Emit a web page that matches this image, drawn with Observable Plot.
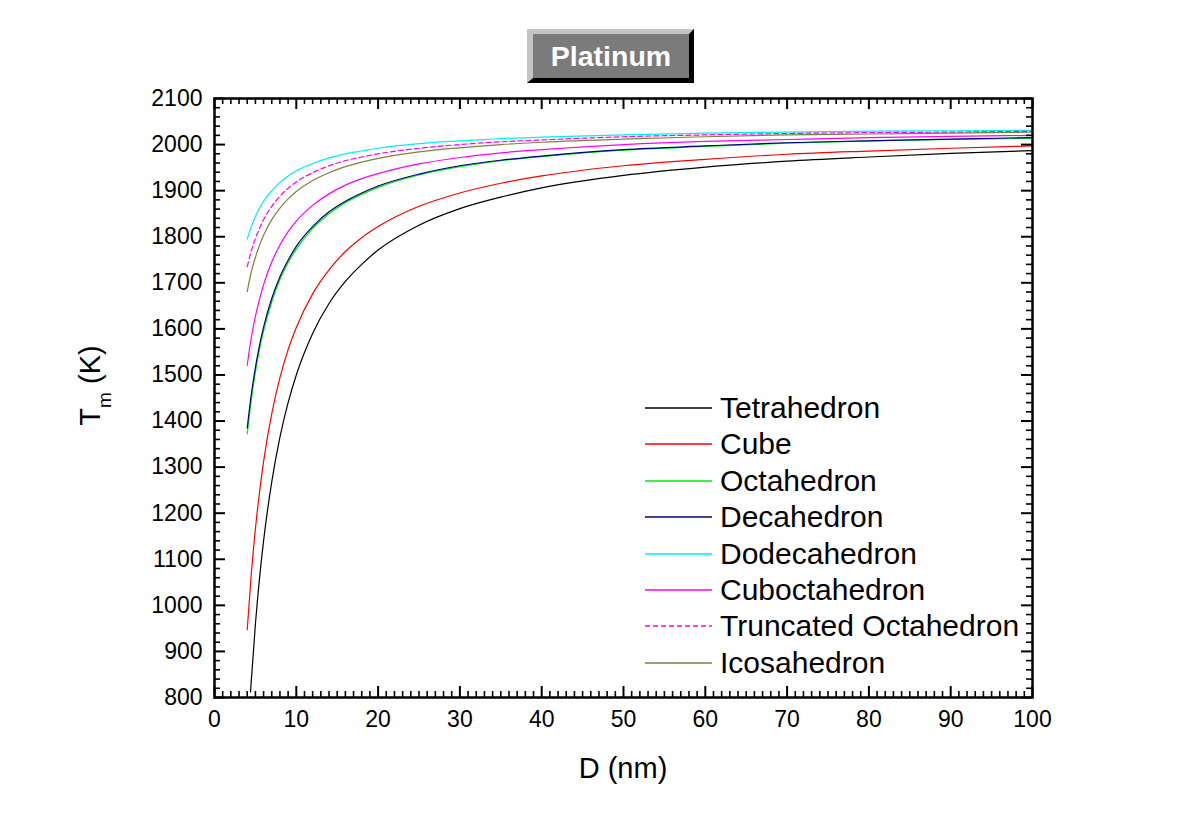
<!DOCTYPE html>
<html>
<head>
<meta charset="utf-8">
<script src="https://cdn.jsdelivr.net/npm/d3@7"></script>
<script src="https://cdn.jsdelivr.net/npm/@observablehq/plot@0.6"></script>
<style>
  html, body { margin: 0; padding: 0; background: #fff; }
  #wrap { position: relative; width: 1200px; height: 837px; font-family: "Liberation Sans", Arial, sans-serif; }
  #title { position: absolute; left: 527px; top: 29px; width: 167px; height: 54px; box-sizing: border-box;
    background: #7b7b7b; border-style: solid; border-width: 5px 5px 5px 6px;
    border-color: #c4c4c4 #000 #000 #c4c4c4; color: #fff; font-weight: bold; font-size: 28.5px;
    display: flex; align-items: center; justify-content: center; }
  .leg { position: absolute; height: 36px; line-height: 36px; font-size: 30px; color: #000; white-space: nowrap; }
</style>
</head>
<body>
<div id="wrap"></div>
<script>
// ---- data ----
const seriesNames = ["Tetrahedron","Cube","Octahedron","Decahedron","Dodecahedron","Cuboctahedron","Truncated Octahedron","Icosahedron"];
const seriesColors = ["#000000","#ff0000","#00ee00","#000080","#00f0f0","#ff00ff","#ff00ff","#7f7f45"];
const seriesDash = [null,null,null,null,null,null,"5,3",null];

const D_all = [4,4.5,5,5.5,6,7,8,9,10,12,14,16,18,20,25,30,35,40,50,60,70,80,90,100];
const D_tetra = [4.4,5,5.5,6,7,8,9,10,12,14,16,18,20,25,30,35,40,50,60,70,80,90,100];

const T_tetrahedron   = [812,959,1058,1140,1268,1365,1440,1500,1590,1655,1703,1740,1771,1825,1861,1886,1906,1933,1951,1964,1973,1981,1987];
const T_cube          = [947,1069,1166,1245,1312,1416,1494,1555,1603,1676,1728,1768,1798,1822,1866,1895,1916,1932,1954,1968,1979,1986,1992,1997];
const T_octahedron    = [1372,1446,1506,1555,1595,1659,1707,1744,1773,1818,1850,1874,1892,1907,1934,1952,1965,1974,1988,1996,2003,2008,2011,2014];
const T_decahedron    = [1385,1458,1516,1564,1604,1666,1713,1749,1779,1822,1854,1877,1895,1910,1936,1954,1966,1975,1989,1997,2004,2008,2012,2015];
const T_dodecahedron  = [1795,1822,1844,1862,1877,1900,1918,1932,1943,1959,1971,1980,1986,1992,2002,2008,2013,2016,2021,2025,2027,2029,2030,2031];
const T_cuboctahedron = [1521,1581,1627,1664,1696,1745,1782,1811,1834,1868,1893,1912,1926,1937,1958,1972,1982,1989,2000,2007,2011,2015,2018,2020];
const T_truncOct      = [1735,1769,1796,1818,1837,1866,1888,1905,1919,1939,1954,1965,1973,1980,1992,2000,2006,2010,2017,2021,2024,2026,2027,2029];
const T_icosahedron   = [1681,1724,1755,1781,1803,1837,1862,1882,1898,1922,1939,1952,1962,1970,1984,1993,2000,2005,2012,2017,2021,2023,2025,2027];

const seriesD = [D_tetra, D_all, D_all, D_all, D_all, D_all, D_all, D_all];
const seriesT = [T_tetrahedron, T_cube, T_octahedron, T_decahedron, T_dodecahedron, T_cuboctahedron, T_truncOct, T_icosahedron];

const xMajor = [0,10,20,30,40,50,60,70,80,90,100];
const xMinor = d3.range(0, 101, 1);
const yMajor = [800,900,1000,1100,1200,1300,1400,1500,1600,1700,1800,1900,2000,2100];
const yMinor = d3.range(800, 2101, 20);

// ---- layout ----
const W = 1200, H = 837, mL = 214, mR = 168, mT = 98, mB = 140;
const fw = W - mL - mR, fh = H - mT - mB;
const majLen = 11, minLen = 6;

const lineMarks = seriesNames.map((name, i) =>
  Plot.line(seriesD[i].map((d, j) => ({D: d, T: seriesT[i][j]})), {
    x: "D", y: "T", stroke: seriesColors[i], strokeWidth: 1.2,
    strokeDasharray: seriesDash[i] || undefined, curve: "monotone-x", clip: true
  })
);

const chart = Plot.plot({
  width: W, height: H, marginLeft: mL, marginRight: mR, marginTop: mT, marginBottom: mB,
  x: {domain: [0, 100]},
  y: {domain: [800, 2100]},
  style: {fontFamily: "'Liberation Sans', Arial, sans-serif", fontSize: "22px", background: "white", color: "black"},
  marks: [
    ...lineMarks,
    // inward ticks on all four sides
    Plot.tickX(xMinor.filter(v => v % 10), {x: d => d, insetTop: fh - minLen, stroke: "black", strokeWidth: 1.6}),
    Plot.tickX(xMinor.filter(v => v % 10), {x: d => d, insetBottom: fh - minLen, stroke: "black", strokeWidth: 1.6}),
    Plot.tickX(xMajor, {x: d => d, insetTop: fh - majLen, stroke: "black", strokeWidth: 2}),
    Plot.tickX(xMajor, {x: d => d, insetBottom: fh - majLen, stroke: "black", strokeWidth: 2}),
    Plot.tickY(yMinor.filter(v => v % 100), {y: d => d, insetRight: fw - minLen, stroke: "black", strokeWidth: 1.6}),
    Plot.tickY(yMinor.filter(v => v % 100), {y: d => d, insetLeft: fw - minLen, stroke: "black", strokeWidth: 1.6}),
    Plot.tickY(yMajor, {y: d => d, insetRight: fw - majLen, stroke: "black", strokeWidth: 2}),
    Plot.tickY(yMajor, {y: d => d, insetLeft: fw - majLen, stroke: "black", strokeWidth: 2}),
    Plot.frame({stroke: "black", strokeWidth: 2.5}),
    Plot.axisX(xMajor, {tickSize: 0, tickPadding: 13, label: null, fontSize: 23, tickFormat: d => String(d)}),
    Plot.axisY(yMajor, {tickSize: 0, tickPadding: 12, label: null, fontSize: 23, tickFormat: d => String(d)})
  ]
});

const wrap = document.getElementById("wrap");
wrap.appendChild(chart);

const svg = d3.select(chart);
// x axis label
svg.append("text").attr("x", mL + fw / 2).attr("y", 778).attr("text-anchor", "middle")
  .attr("font-size", 29).attr("fill", "black").text("D (nm)");
// y axis label with subscript
const yl = svg.append("text").attr("transform", `translate(100,${mT + fh / 2 - 12}) rotate(-90)`)
  .attr("text-anchor", "middle").attr("font-size", 29).attr("fill", "black");
yl.append("tspan").text("T");
yl.append("tspan").attr("font-size", 19).attr("dy", 11).text("m");
yl.append("tspan").attr("dy", -11).text(" (K)");

// title box
const t = document.createElement("div");
t.id = "title"; t.textContent = "Platinum";
wrap.appendChild(t);

// legend (inside plot area)
seriesNames.forEach((name, i) => {
  const top = 390 + i * 36.4;
  const row = document.createElement("div");
  row.className = "leg";
  row.style.left = "645px"; row.style.top = top + "px";
  row.innerHTML = `<svg width="68" height="36" style="vertical-align:top"><line x1="0" x2="67" y1="18" y2="18" stroke="${seriesColors[i]}" stroke-width="1.3" ${seriesDash[i] ? `stroke-dasharray="${seriesDash[i]}"` : ""}/></svg><span style="margin-left:7px">${name}</span>`;
  wrap.appendChild(row);
});
</script>
</body>
</html>
